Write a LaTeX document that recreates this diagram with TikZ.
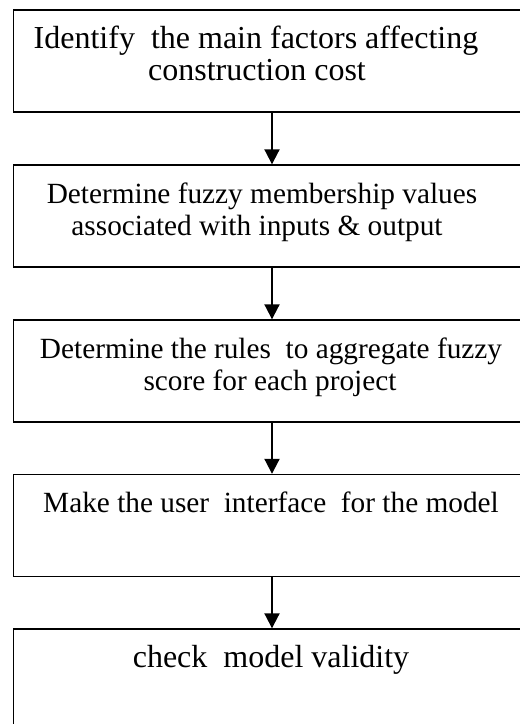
\documentclass[tikz,border=0pt]{standalone}
\usepackage{fontspec}
\setmainfont{Liberation Serif}
\usetikzlibrary{arrows.meta}
\begin{document}
\begin{tikzpicture}[x=1pt,y=1pt,
  stepbox/.style={draw=black, line width=1.4pt, minimum width=517pt, minimum height=102pt, inner sep=0pt},
  txt/.style={anchor=base, inner sep=0pt, font=\fontsize{29.3}{32}\selectfont},
  bigtxt/.style={txt, font=\fontsize{32}{32}\selectfont},
  flow/.style={line width=2pt, -{Triangle[width=15pt,length=15pt]}}]
\useasboundingbox (0,0) rectangle (520,-724);
\clip (0,0) rectangle (520,-724);
\node[stepbox] (b1) at (272,-61) {};
\node[stepbox] (b2) at (272,-216) {};
\node[stepbox] (b3) at (272,-371) {};
\node[stepbox] (b4) at (272,-525.5) {};
\node[stepbox] (b5) at (272,-680) {};
\node[bigtxt] (t1a) at (256,-48) {Identify\ \ the main factors affecting};
\node[bigtxt] (t1b) at (257,-80) {construction cost};
\node[txt] (t2a) at (262,-203) {Determine fuzzy membership values};
\node[txt] (t2b) at (257,-235) {associated with inputs \& output};
\node[txt] (t3a) at (271,-358) {Determine the rules\ \ to aggregate fuzzy};
\node[txt] (t3b) at (270,-390) {score for each project};
\node[txt] (t4a) at (271,-512) {Make the user\ \ interface\ \ for the model};
\node[bigtxt] (t5a) at (271,-667) {check\ \ model validity};
\draw[flow] (b1.south -| 272,0) -- (b2.north -| 272,0);
\draw[flow] (b2.south -| 272,0) -- (b3.north -| 272,0);
\draw[flow] (b3.south -| 272,0) -- (b4.north -| 272,0);
\draw[flow] (b4.south -| 272,0) -- (b5.north -| 272,0);
\end{tikzpicture}
\end{document}
